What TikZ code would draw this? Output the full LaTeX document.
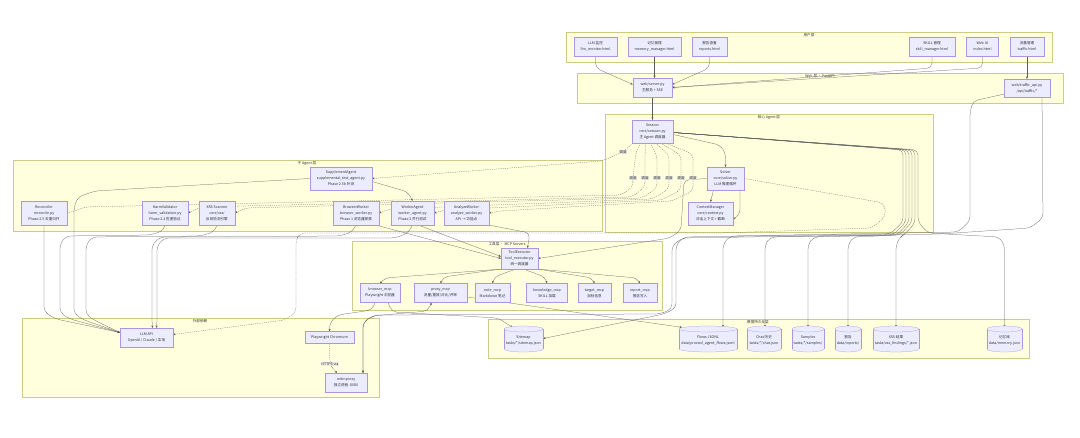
\documentclass[tikz,border=0pt]{standalone}
\usepackage{fontspec}
\setmainfont{Noto Sans CJK SC}
\usetikzlibrary{arrows.meta,calc}
\definecolor{nodefill}{HTML}{ECECFF}
\definecolor{nodeline}{HTML}{9370DB}
\definecolor{clfill}{HTML}{FFFFDE}
\definecolor{clline}{HTML}{AAAA33}
\definecolor{edgec}{HTML}{333333}
\definecolor{lblfill}{HTML}{E8E8E8}
\pgfdeclarelayer{paper}\pgfdeclarelayer{bg}\pgfdeclarelayer{edges}\pgfdeclarelayer{fg}
\pgfsetlayers{paper,bg,edges,main,fg}
\tikzset{
 txt/.style={font=\fontsize{3.6}{6}\selectfont, text=black!80},
 box/.style={txt, draw=nodeline!75, fill=nodefill, line width=0.25pt, inner sep=0pt, align=center},
 cluster/.style={draw=clline!60, fill=clfill, line width=0.25pt},
 ctitle/.style={txt, inner sep=0pt},
 edge/.style={draw=edgec!80, line width=0.25pt, -{Stealth[length=2.4pt,width=2pt]}, rounded corners=5pt},
 dedge/.style={edge, dash pattern=on 1.2pt off 1pt},
 elabel/.style={txt, fill=lblfill, fill opacity=0.9, text opacity=1, inner sep=0.7pt},
 dbtext/.style={txt, inner sep=0pt, align=center},
 dbshape/.style={draw=nodeline!75, fill=nodefill, line width=0.25pt},
 twoarrow/.style={{Stealth[length=2.4pt,width=2pt]}-{Stealth[length=2.4pt,width=2pt]}}
}
\newcommand\bx[6]{\node[box, minimum width=#4pt, minimum height=#5pt] (#1) at (#2,#3) {#6};}
\newcommand\dbnode[6]{%
 \fill[nodefill] ({#2-#4/2},{#3-#5/2+3}) rectangle ({#2+#4/2},{#3+#5/2-3});
 \path[dbshape] ({#2},{#3+#5/2-3}) ellipse[x radius={#4/2}, y radius=3];
 \fill[nodefill] ({#2-#4/2},{#3-#5/2+3}) rectangle ({#2+#4/2},{#3+#5/2-3});
 \draw[nodeline!75, line width=0.25pt] ({#2-#4/2},{#3-#5/2+3}) -- ({#2-#4/2},{#3+#5/2-3});
 \draw[nodeline!75, line width=0.25pt] ({#2+#4/2},{#3-#5/2+3}) -- ({#2+#4/2},{#3+#5/2-3});
 \path[dbshape] ({#2},{#3-#5/2+3}) ellipse[x radius={#4/2}, y radius=3];
 \node[dbtext, minimum width=#4pt, minimum height=#5pt] (#1) at ({#2},{#3+1.5}) {#6};}
\begin{document}
\begin{tikzpicture}[x=1pt,y=-1pt]
\begin{pgfonlayer}{paper}
\fill[white] (0,0) rectangle (1080,438);
\end{pgfonlayer}
\useasboundingbox (0,0) rectangle (1080,438);
% clusters
\begin{pgfonlayer}{bg}
\draw[cluster] (566,32) rectangle (1052,62);
\node[ctitle] (tuser) at (809,35.5) {用户层};
\draw[cluster] (577,73) rectangle (1063,103);
\node[ctitle] (tweb) at (820,76.5) {Web 层 · FastAPI};
\draw[cluster] (605,114) rectangle (933,232);
\node[ctitle] (tcore) at (769,117.5) {核心 Agent 层};
\draw[cluster] (13,160) rectangle (602,231);
\node[ctitle] (tsub) at (307,163.5) {子 Agent 层};
\draw[cluster] (352,241) rectangle (662,310);
\node[ctitle] (ttool) at (507,244.5) {工具层 · MCP Servers};
\draw[cluster] (22,318) rectangle (379,397);
\node[ctitle] (text) at (200,321.5) {外部依赖};
\draw[cluster] (488,319) rectangle (1029,358);
\node[ctitle] (tdata) at (758,322.5) {数据持久化层};
\end{pgfonlayer}
% nodes
\bx{ullm}{595.5}{46.5}{43}{19}{LLM 监控\\llm\_monitor.html}
\bx{umem}{654.5}{46.5}{53}{19}{记忆管理\\memory\_manager.html}
\bx{urep}{709.5}{46.5}{35}{19}{报告查看\\reports.html}
\bx{uskill}{932}{46.5}{46}{19}{SKILL 管理\\skill\_manager.html}
\bx{uwebui}{982.5}{46.5}{32}{19}{Web UI\\index.html}
\bx{utraffic}{1027}{46.5}{34}{19}{流量管理\\traffic.html}
\bx{server}{652.5}{87.5}{39}{19}{web/server.py\\主服务 + SSE}
\bx{tapi}{1027}{88}{46}{18}{web/traffic\_api.py\\/api/traffic/*}
\bx{session}{652.5}{131.5}{41}{23}{Session\\core/session.py\\主 Agent 调度器}
\bx{solver}{725.5}{178.5}{37}{23}{Solver\\core/solver.py\\LLM 推理循环}
\bx{ctx}{710.5}{213.5}{45}{23}{ContextManager\\core/context.py\\对话上下文 + 截断}
\bx{supp}{341}{178.5}{62}{23}{SupplementAgent\\supplemental\_test\_agent.py\\Phase 2.5b 补测}
\bx{rec}{44}{213}{46}{24}{Reconciler\\reconcile.py\\Phase 2.5 去重归并}
\bx{harm}{165}{213}{46}{24}{HarmValidator\\harm\_validation.py\\Phase 2.4 危害验证}
\bx{xss}{217}{213}{36}{24}{XSS Scanner\\core/xss/\\反射检测引擎}
\bx{browser}{356}{213}{46}{24}{BrowserWorker\\browser\_worker.py\\Phase 1 浏览器探索}
\bx{worker}{412.5}{213}{43}{24}{WorkerAgent\\worker\_agent.py\\Phase 2 并行测试}
\bx{analyze}{466.5}{213}{45}{24}{AnalyzeWorker\\analyze\_worker.py\\API → 功能点}
\bx{toolexec}{519.5}{258.5}{37}{21}{ToolExecutor\\tool\_executor.py\\统一调度器}
\bx{bmcp}{380}{293}{40}{19}{browser\_mcp\\Playwright 浏览器}
\bx{pmcp}{440.5}{293}{53}{19}{proxy\_mcp\\流量/重放/对比/评审}
\bx{nmcp}{492.5}{293}{35}{19}{note\_mcp\\Markdown 笔记}
\bx{kmcp}{547}{293}{41}{19}{knowledge\_mcp\\SKILL 加载}
\bx{tmcp}{594.5}{293}{33}{19}{target\_mcp\\目标信息}
\bx{rmcp}{640}{293}{34}{19}{report\_mcp\\报告写入}
\bx{llm}{146.5}{337.5}{53}{19}{LLM API\\OpenAI / Claude / 本地}
\bx{pw}{329.5}{337.5}{49}{12}{Playwright Chromium}
\bx{mitm}{346}{382.5}{42}{19}{mitmproxy\\独立进程 :8080}
\dbnode{sitemap}{523.5}{339}{39}{26}{Sitemap\\tasks/*/sitemap.json}
\dbnode{flows}{708}{339}{58}{26}{Flows JSONL\\data/proxied\_agent\_flows.jsonl}
\dbnode{chat}{764}{339}{34}{26}{Chat 历史\\tasks/*/chat.json}
\dbnode{samples}{808}{339}{32}{26}{Samples\\tasks/*/samples/}
\dbnode{report}{848}{339}{26}{26}{报告\\data/reports/}
\dbnode{xssr}{896}{339}{46}{26}{XSS 结果\\tasks/xss\_findings/*.json}
\dbnode{mem}{1004.5}{339}{35}{26}{记忆库\\data/memory.json}
% edge labels
\begin{pgfonlayer}{fg}
\node[elabel] (lbl1) at (623,152) {调度};
\node[elabel] (lbl2) at (633,178) {调度};
\node[elabel] (lbl3) at (645,178) {调度};
\node[elabel] (lbl4) at (657,178) {调度};
\node[elabel] (lbl5) at (669,178) {调度};
\node[elabel] (lbl6) at (681,178) {调度};
\node[elabel] (lbl7) at (693,178) {调度};
\node[elabel] (lh) at (330,364) {HTTPS via};
\end{pgfonlayer}
% edges
\begin{pgfonlayer}{edges}
% user -> web
\draw[edge] (ullm.south) -- (595.5,68) -- ([yshift=3pt]server.west);
\draw[edge] (umem.south) -- (umem.south |- server.north);
\draw[edge] (urep.south) -- (709.5,68) -- ([yshift=3pt]server.east);
\draw[edge] (uskill.south) -- (932,68) -- (server.east);
\draw[edge] (uwebui.south) -- (982.5,68) -- (server.east);
\draw[edge] (utraffic.south) -- (tapi.north);
% web -> core
\draw[edge] (server.south) -- (session.north);
\draw[edge] ([yshift=3pt]tapi.south west) -- (973,101) -- (970,112) -- (970,221) -- (958,232) -- (730,236) -- (723,244) -- ([xshift=15pt]flows.north);
\draw[edge] ([xshift=15pt]tapi.south) -- (1043,218) -- (1030,228) -- (940,234) -- (682,238) -- (672,246) -- (672,309) -- (660,314) -- (375,315) -- (363,322) -- ([xshift=17pt]mitm.north);
% core
\draw[edge] ([yshift=-3pt]session.east) -- (720,145) -- (725.5,153) -- (solver.north);
\draw[edge] ([xshift=-12pt]solver.south) -- (ctx.north);
\draw[edge] ([xshift=-4pt]solver.south east) -- (740,198) -- (740,214) -- ([yshift=-6pt]ctx.east);
\draw[dedge] (solver.east) -- (884,203) -- (886,216) -- (872,228) -- (720,233) -- (300,233) -- (296,240) -- (296,312) -- (285,320) -- ([yshift=3pt]llm.east);
\draw[edge] (solver.west) -- (684,180) -- (681,230) -- (670,238) -- (toolexec.east);
% session -> data
\draw[edge] ([yshift=-1pt]session.east) -- (903,150) -- (903,222) -- (890,234) -- (684,237) -- (676,245) -- (676,308) -- (664,314) -- ([yshift=2pt]sitemap.east);
\draw[edge] ([yshift=-1pt]session.east) -- (906,150) -- (906,222) -- (893,235) -- (770,237) -- (765,245) -- ([xshift=1pt]chat.north);
\draw[edge] ([yshift=-1pt]session.east) -- (909,150) -- (909,222) -- (897,235) -- (813,237) -- (808,245) -- (samples.north);
\draw[edge] ([yshift=-1pt]session.east) -- (912,150) -- (912,222) -- (900,235) -- (853,237) -- (848,245) -- (report.north);
\draw[edge] ([yshift=-1pt]session.east) -- (915,150) -- (915,223) -- (905,234) -- (900,237) -- (896,245) -- (xssr.north);
\draw[edge] ([yshift=-1pt]session.east) -- (918,150) -- (918,222) -- (928,233) -- (999,237) -- (1004.5,245) -- (mem.north);
% session -> sub agents (dispatch)
\draw[dedge] ([xshift=1pt]session.south west) -- (lbl1.center) -- (602,161) -- (supp.east);
\draw[dedge] ([xshift=-12pt]session.south) -- (636,152) -- (lbl2.center) -- (633,186) -- (622,195) -- (85,207) -- (72,212) -- (rec.east);
\draw[dedge] ([xshift=-7pt]session.south) -- (645,155) -- (lbl3.center) -- (645,187) -- (632,197) -- (200,207) -- (harm.east);
\draw[dedge] ([xshift=-2pt]session.south) -- (657,156) -- (lbl4.center) -- (657,188) -- (642,198) -- (245,208) -- (xss.east);
\draw[dedge] ([xshift=3pt]session.south) -- (669,155) -- (lbl5.center) -- (669,189) -- (652,199) -- (390,209) -- (browser.east);
\draw[dedge] ([xshift=8pt]session.south) -- (681,155) -- (lbl6.center) -- (681,190) -- (662,200) -- (445,210) -- (worker.east);
\draw[dedge] ([xshift=13pt]session.south) -- (693,154) -- (lbl7.center) -- (693,191) -- (672,201) -- (500,211) -- (analyze.east);
% sub agents -> LLM
\draw[edge] (rec.south) -- (44,312) -- (56,319) -- ([yshift=5pt]llm.west);
\draw[edge] (harm.south) -- (163,231) -- (150,235) -- (66,236) -- (60,244) -- (60,313) -- (70,319) -- ([yshift=5pt]llm.west);
\draw[edge] (supp.west) -- (95,191) -- (78,197) -- (74,207) -- (74,314) -- (84,320) -- ([yshift=5pt]llm.west);
\draw[edge] (xss.south) -- (214,232) -- (200,236) -- (92,237) -- (86,245) -- (86,315) -- (96,321) -- ([yshift=5pt]llm.west);
\draw[edge] (browser.south) -- (352,232) -- (340,236) -- (160,237) -- (152,245) -- (152,322) -- ([xshift=6pt]llm.north);
\draw[edge] (worker.south) -- (408,233) -- (395,238) -- (164,238) -- (157,246) -- (157,322) -- ([xshift=10pt]llm.north);
% sub agents -> tools
\draw[edge] ([yshift=-3pt]supp.east) -- (408,192) -- (worker.north);
\draw[edge] ([xshift=-3pt]browser.south east) -- (toolexec.west);
\draw[edge] ([xshift=6pt]worker.south) -- ([yshift=2pt]toolexec.west);
\draw[edge] (analyze.south east) -- (530,233) -- ([xshift=8pt]toolexec.north);
% tool executor -> mcp
\draw[edge] (toolexec.south west) -- (385,278) -- (bmcp.north);
\draw[edge] (toolexec.south west) -- (443,277) -- (pmcp.north);
\draw[edge] ([xshift=-4pt]toolexec.south) -- (494,277) -- (nmcp.north);
\draw[edge] ([xshift=4pt]toolexec.south) -- (545,277) -- (kmcp.north);
\draw[edge] (toolexec.south east) -- (592,278) -- (tmcp.north);
\draw[edge] (toolexec.south east) -- (637,278) -- (rmcp.north);
% mcp -> external / data
\draw[edge] ([xshift=-5pt]bmcp.south) -- (372,310) -- (338,315) -- (330,322) -- (pw.north);
\draw[edge] ([xshift=8pt]bmcp.south) -- (392,312) -- (498,318) -- ([xshift=-11pt]sitemap.north);
\draw[edge, twoarrow] ([xshift=-9pt]pmcp.south) -- (428,311) -- (372,316) -- (363,323) -- ([xshift=17pt]mitm.north);
\draw[edge] ([yshift=-4pt]pmcp.east) -- ([xshift=-26pt]flows.north);
\draw[dedge] (pw.south) -- (lh.center) -- (333,369) -- ([xshift=-9pt]mitm.north);
\end{pgfonlayer}
\end{tikzpicture}
\end{document}
